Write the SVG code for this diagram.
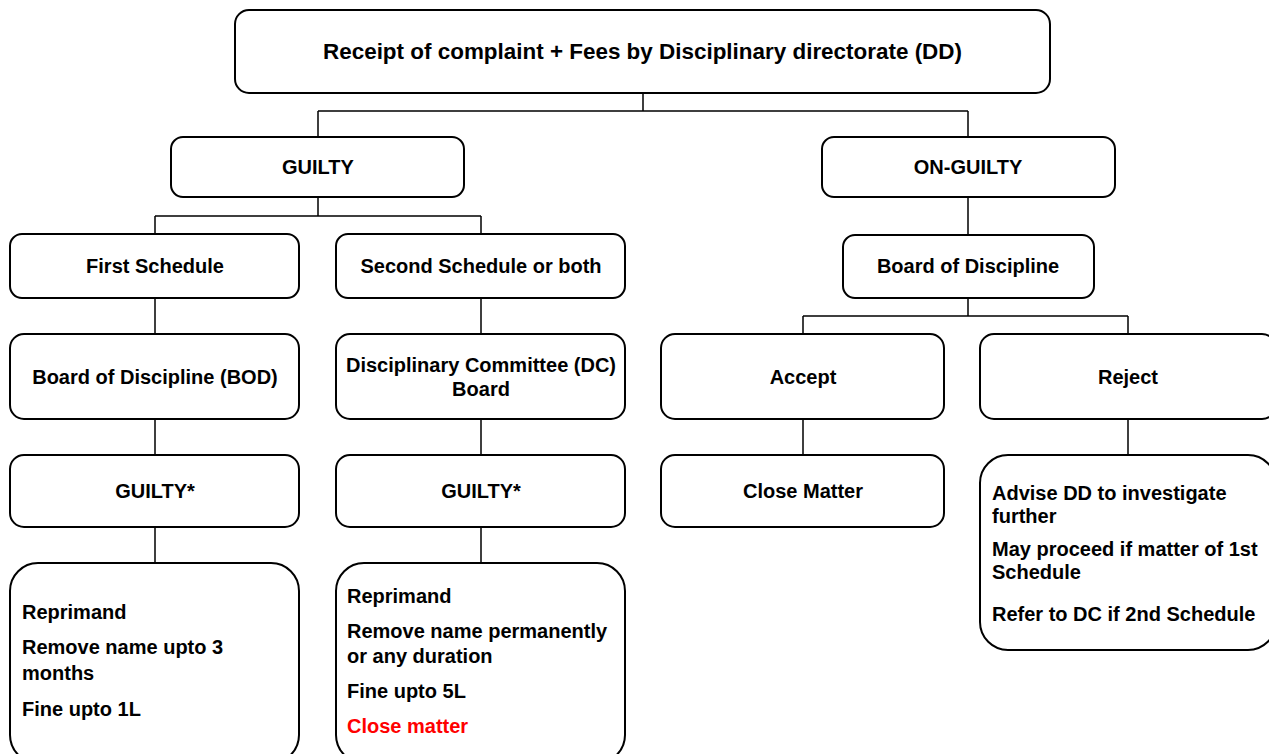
<svg xmlns="http://www.w3.org/2000/svg" width="1269" height="754" viewBox="0 0 1269 754">
<style>
.box{fill:#fff;stroke:#000;stroke-width:2}
.t{font-family:"Liberation Sans",Arial,sans-serif;font-weight:bold;font-size:20px;fill:#000}
.c{text-anchor:middle}
.red{fill:#ff0000}
.conn{fill:none;stroke:#000;stroke-width:1.5}
</style>
<rect width="1269" height="754" fill="#fff"/>
<g id="connectors">
<path class="conn" d="M643 93V111M318 111H968M318 111V137M968 111V137"/>
<path class="conn" d="M318 197V216M155 216H481M155 216V234M481 216V234"/>
<path class="conn" d="M968 197V235M968 298V316M803 316H1128M803 316V334M1128 316V334"/>
<path class="conn" d="M155 298V334M481 298V334M155 419V455M481 419V455M803 419V455M1128 419V455M155 527V563M481 527V563"/>
</g>
<g id="n-root"><rect class="box" x="235" y="10" width="815" height="83" rx="14"/><text class="t c" x="642.5" y="59" style="font-size:22px" textLength="639" lengthAdjust="spacingAndGlyphs">Receipt of complaint + Fees by Disciplinary directorate (DD)</text></g>
<g id="n-guilty"><rect class="box" x="171" y="137" width="293" height="60" rx="12"/><text class="t c" x="318" y="174">GUILTY</text></g>
<g id="n-onguilty"><rect class="box" x="822" y="137" width="293" height="60" rx="12"/><text class="t c" x="968" y="174">ON-GUILTY</text></g>
<g id="n-first"><rect class="box" x="10" y="234" width="289" height="64" rx="12"/><text class="t c" x="155" y="273">First Schedule</text></g>
<g id="n-second"><rect class="box" x="336" y="234" width="289" height="64" rx="12"/><text class="t c" x="481" y="273">Second Schedule or both</text></g>
<g id="n-bod-right"><rect class="box" x="843" y="235" width="251" height="63" rx="12"/><text class="t c" x="968" y="273">Board of Discipline</text></g>
<g id="n-bod"><rect class="box" x="10" y="334" width="289" height="85" rx="14"/><text class="t c" x="155" y="384">Board of Discipline (BOD)</text></g>
<g id="n-dc"><rect class="box" x="336" y="334" width="289" height="85" rx="14"/><text class="t c" x="481" y="372">Disciplinary Committee (DC)</text><text class="t c" x="481" y="396">Board</text></g>
<g id="n-accept"><rect class="box" x="661" y="334" width="283" height="85" rx="14"/><text class="t c" x="803" y="384">Accept</text></g>
<g id="n-reject"><rect class="box" x="980" y="334" width="296" height="85" rx="14"/><text class="t c" x="1128" y="384">Reject</text></g>
<g id="n-guilty1"><rect class="box" x="10" y="455" width="289" height="72" rx="14"/><text class="t c" x="155" y="498">GUILTY*</text></g>
<g id="n-guilty2"><rect class="box" x="336" y="455" width="289" height="72" rx="14"/><text class="t c" x="481" y="498">GUILTY*</text></g>
<g id="n-close"><rect class="box" x="661" y="455" width="283" height="72" rx="14"/><text class="t c" x="803" y="498">Close Matter</text></g>
<g id="n-reject-detail"><rect class="box" x="980" y="455" width="296" height="195" rx="28"/>
<text class="t" x="992" y="500">Advise DD to investigate</text>
<text class="t" x="992" y="523">further</text>
<text class="t" x="992" y="556">May proceed if matter of 1st</text>
<text class="t" x="992" y="579">Schedule</text>
<text class="t" x="992" y="621">Refer to DC if 2nd Schedule</text></g>
<g id="n-penalty1"><rect class="box" x="10" y="563" width="289" height="200" rx="28"/>
<text class="t" x="22" y="619">Reprimand</text>
<text class="t" x="22" y="654">Remove name upto 3</text>
<text class="t" x="22" y="680">months</text>
<text class="t" x="22" y="716">Fine upto 1L</text></g>
<g id="n-penalty2"><rect class="box" x="336" y="563" width="289" height="200" rx="28"/>
<text class="t" x="347" y="603">Reprimand</text>
<text class="t" x="347" y="638">Remove name permanently</text>
<text class="t" x="347" y="663">or any duration</text>
<text class="t" x="347" y="698">Fine upto 5L</text>
<text class="t red" x="347" y="733">Close matter</text></g>
</svg>
